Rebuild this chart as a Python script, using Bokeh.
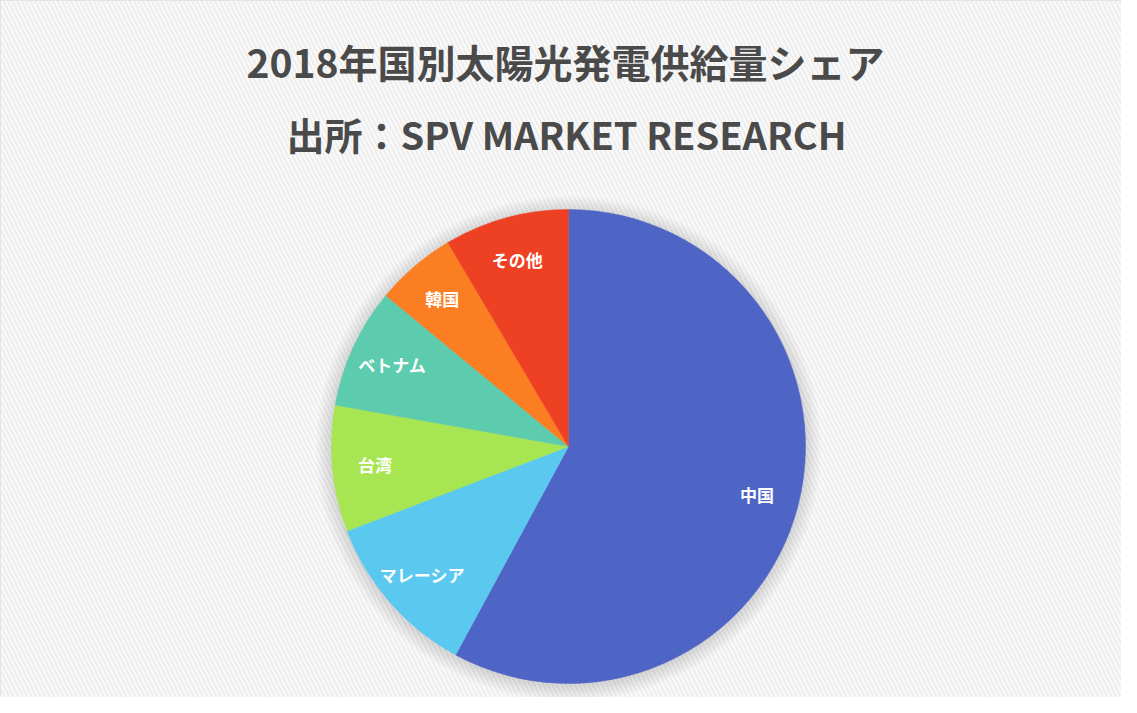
import math
from bokeh.plotting import figure
from bokeh.models import Range1d, Label
from bokeh.core.properties import value
from bokeh.embed import file_html
from bokeh.resources import INLINE

# ---- data ----
categories = ["中国", "マレーシア", "台湾", "ベトナム", "韓国", "その他"]
shares = [57.9, 11.3, 8.6, 8.2, 5.5, 8.5]
colors = ["#4e65c6", "#5bc8ef", "#a7e652", "#5ccbae", "#fb7e22", "#ee4124"]
title_line1 = "2018年国別太陽光発電供給量シェア"
title_line2 = "出所：SPV MARKET RESEARCH"

# ---- layout (data units == screenshot pixels, y measured upward) ----
W, H = 1121, 697
REF_H = 713
cx, cy_img, R = 568, 446, 237
cy = REF_H - cy_img

p = figure(width=W, height=H, output_backend="svg", toolbar_location=None,
           x_range=Range1d(0, W), y_range=Range1d(REF_H - H, REF_H),
           min_border=0)
p.axis.visible = False
p.grid.visible = False
p.background_fill_color = "#fcfcfc"
p.border_fill_color = "#fcfcfc"
p.outline_line_color = "#dadada"
p.outline_line_width = 3

# striped background
p.quad(left=0, right=W, bottom=REF_H - H, top=REF_H,
       fill_color="#fcfcfc", line_color=None,
       hatch_pattern="\\", hatch_color="#efefef", hatch_weight=2.5, hatch_scale=9)

# soft shadow around pie
for i in range(16, 0, -1):
    p.circle(x=cx, y=cy - 2, radius=R + i, fill_color="#9a9a9a",
             fill_alpha=0.02, line_color=None)

# wedges
total = sum(shares)
start = 0.0
mids = []
for cat, s, c in zip(categories, shares, colors):
    end = start + s / total * 360.0
    p.wedge(x=cx, y=cy, radius=R,
            start_angle=math.radians(90 - start), end_angle=math.radians(90 - end),
            direction="clock", fill_color=c, line_color=c, line_width=0.5)
    mids.append((start + end) / 2)
    start = end

# slice labels
lx, ly = [], []
for m in mids:
    a = math.radians(m)
    lx.append(cx + 0.82 * R * math.sin(a))
    ly.append(cy + 0.82 * R * math.cos(a))
p.text(x=lx, y=ly, text=categories, text_color="white",
       text_font=value("Noto Sans CJK JP"), text_font_style="bold",
       text_font_size="17px", text_align="center", text_baseline="middle")

# titles
p.add_layout(Label(x=565, y=REF_H - 60, text=title_line1, text_align="center",
                   text_baseline="middle", text_font="Noto Sans CJK JP",
                   text_font_style="bold", text_font_size="39px", text_color="#4a4a4a"))
p.add_layout(Label(x=566, y=REF_H - 133, text=title_line2, text_align="center",
                   text_baseline="middle", text_font="Noto Sans CJK JP",
                   text_font_style="bold", text_font_size="38px", text_color="#4a4a4a"))

open("out.html", "w").write(file_html(p, INLINE))
